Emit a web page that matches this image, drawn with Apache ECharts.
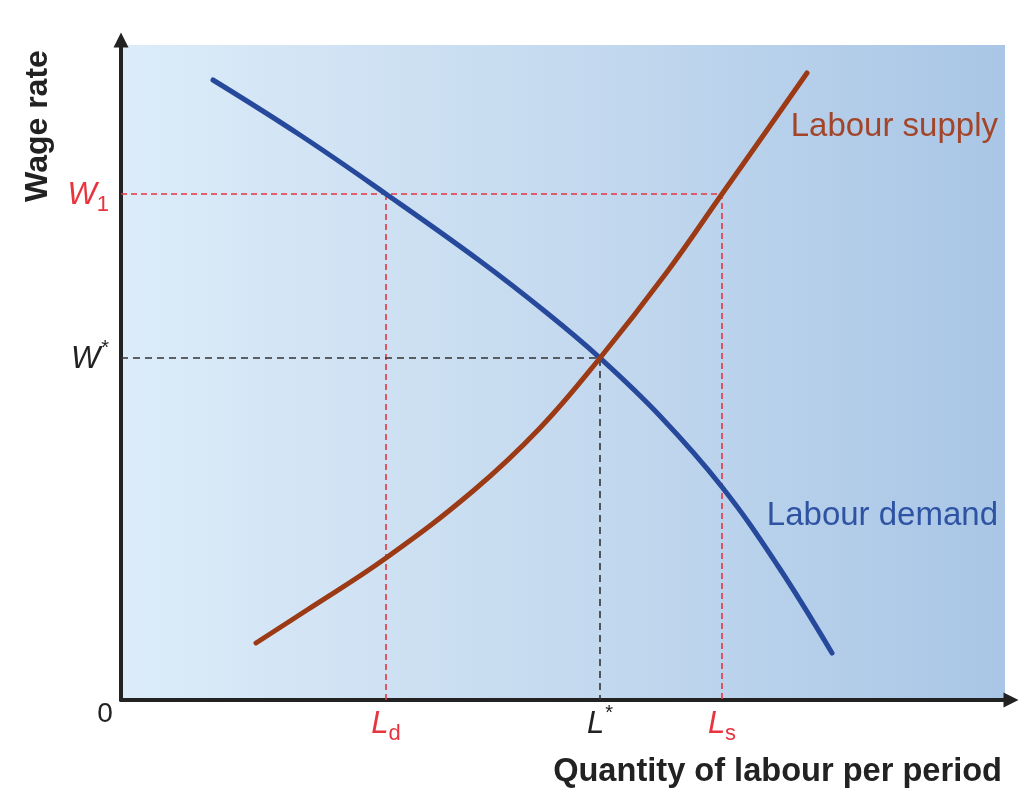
<!DOCTYPE html>
<html>
<head>
<meta charset="utf-8">
<script src="https://cdn.jsdelivr.net/npm/echarts@6/dist/echarts.min.js"></script>
<style>
html,body{margin:0;padding:0;background:#ffffff;}
#chart{width:1024px;height:798px;}
</style>
</head>
<body>
<div id="chart"></div>
<script>
// ---- data (quantity of labour, wage rate) ----
const demandQty  = [92, 179, 265, 359, 426, 479, 539, 601, 657, 711];
const demandWage = [620, 565, 506, 439, 387, 342, 284, 213, 134, 47];
const supplyQty  = [135, 186, 265, 352, 419, 479, 546, 601, 644, 686];
const supplyWage = [57, 90, 142, 209, 272, 342, 428, 506, 567, 627];

const wageLevels = [342, 506];            // W*, W1
const wageLabels = ['W*', 'W1'];
const qtyLevels  = [265, 479, 601];       // Ld, L*, Ls
const qtyLabels  = ['Ld', 'L*', 'Ls'];
const seriesNames = ['Labour demand', 'Labour supply'];
const xAxisTitle = 'Quantity of labour per period';
const yAxisTitle = 'Wage rate';
const xMax = 884, yMax = 655;

const Wstar = wageLevels[0], W1 = wageLevels[1];
const Ld = qtyLevels[0], Lstar = qtyLevels[1], Ls = qtyLevels[2];

const zip = (a, b) => a.map((v, i) => [v, b[i]]);

const RED = '#e8343f';
const DARK = '#222222';

const rich = {
  rW: {fontFamily: 'Liberation Sans', fontStyle: 'italic', fontSize: 31, color: RED, lineHeight: 34, verticalAlign: 'bottom'},
  kW: {fontFamily: 'Liberation Sans', fontStyle: 'italic', fontSize: 31, color: DARK, lineHeight: 34, verticalAlign: 'bottom'},
  rSub: {fontFamily: 'Liberation Sans', fontSize: 22, color: RED, lineHeight: 34, verticalAlign: 'bottom', padding: [0, 0, -5, 0]},
  kSup: {fontFamily: 'Liberation Sans', fontSize: 20, color: DARK, lineHeight: 34, verticalAlign: 'top', padding: [-3, 0, 0, 1]}
};

function fmtLabel(txt) {
  const main = txt.charAt(0), rest = txt.slice(1);
  if (rest === '*') return '{kW|' + main + '}{kSup|*}';
  return '{rW|' + main + '}{rSub|' + rest + '}';
}

const chart = echarts.init(document.getElementById('chart'), null, {renderer: 'canvas'});

const option = {
  animation: false,
  backgroundColor: '#ffffff',
  grid: {
    left: 121, right: 19, top: 45, bottom: 98,
    show: true, borderWidth: 0,
    backgroundColor: new echarts.graphic.LinearGradient(0, 0, 1, 0, [
      {offset: 0, color: '#dcecf9'},
      {offset: 0.5, color: '#c5daef'},
      {offset: 1, color: '#a9c6e6'}
    ])
  },
  xAxis: {
    type: 'value', min: 0, max: xMax,
    splitLine: {show: false},
    axisTick: {show: false},
    axisLine: {show: true, lineStyle: {color: DARK, width: 4},
      symbol: ['none', 'triangle'], symbolSize: [15, 15], symbolOffset: [0, 6]},
    axisLabel: {
      customValues: qtyLevels, margin: 6,
      formatter: v => fmtLabel(qtyLabels[qtyLevels.indexOf(v)]),
      rich: rich
    }
  },
  yAxis: {
    type: 'value', min: 0, max: yMax,
    splitLine: {show: false},
    axisTick: {show: false},
    axisLine: {show: true, lineStyle: {color: DARK, width: 4},
      symbol: ['none', 'triangle'], symbolSize: [15, 15], symbolOffset: [0, 5]},
    axisLabel: {
      customValues: wageLevels, margin: 12,
      formatter: v => fmtLabel(wageLabels[wageLevels.indexOf(v)]),
      rich: rich
    }
  },
  series: [
    {
      type: 'line', silent: true, symbol: 'none',
      data: [[0, W1], [Ls, W1], [Ls, 0]],
      lineStyle: {color: RED, width: 1.6, type: [6, 4]}, z: 1
    },
    {
      type: 'line', silent: true, symbol: 'none',
      data: [[Ld, W1], [Ld, 0]],
      lineStyle: {color: RED, width: 1.6, type: [6, 4]}, z: 1
    },
    {
      type: 'line', silent: true, symbol: 'none',
      data: [[0, Wstar], [Lstar, Wstar], [Lstar, 0]],
      lineStyle: {color: '#333333', width: 1.6, type: [7, 5]}, z: 1
    },
    {
      name: seriesNames[0], type: 'line', symbol: 'none', smooth: 0.4,
      data: zip(demandQty, demandWage),
      lineStyle: {color: '#27499c', width: 5, cap: 'round'}, z: 3
    },
    {
      name: seriesNames[1], type: 'line', symbol: 'none', smooth: 0.4,
      data: zip(supplyQty, supplyWage),
      lineStyle: {color: '#9b3a14', width: 5, cap: 'round'}, z: 4
    }
  ],
  graphic: [
    {type: 'text', x: 1002, y: 772,
      style: {text: xAxisTitle, font: 'bold 32.6px "Liberation Sans"', fill: DARK,
        align: 'right', verticalAlign: 'middle'}},
    {type: 'text', x: 38, y: 126, rotation: Math.PI / 2,
      style: {text: yAxisTitle, font: 'bold 32px "Liberation Sans"', fill: DARK,
        align: 'center', verticalAlign: 'middle'}},
    {type: 'text', x: 105, y: 714,
      style: {text: '0', font: '28px "Liberation Sans"', fill: DARK,
        align: 'center', verticalAlign: 'middle'}},
    {type: 'text', x: 998, y: 127,
      style: {text: seriesNames[1], font: '33px "Liberation Sans"', fill: '#a3452a',
        align: 'right', verticalAlign: 'middle'}},
    {type: 'text', x: 998, y: 516,
      style: {text: seriesNames[0], font: '33px "Liberation Sans"', fill: '#2f53a3',
        align: 'right', verticalAlign: 'middle'}}
  ]
};
chart.setOption(option);
</script>
</body>
</html>
